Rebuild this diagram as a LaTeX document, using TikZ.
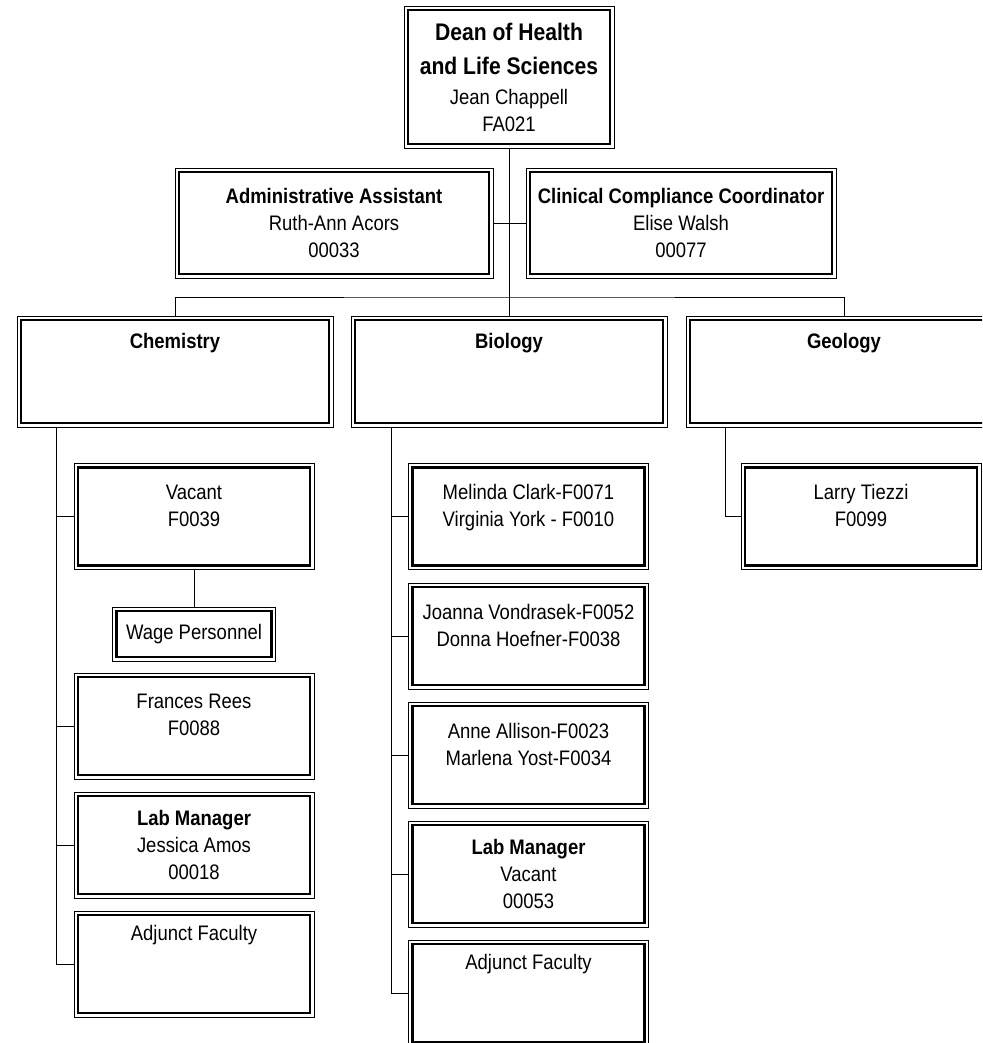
\documentclass[tikz,border=0pt]{standalone}
\usepackage{fontspec}
\setmainfont{Liberation Sans}[FakeStretch=0.88]
\newcommand{\headline}{\fontsize{24}{30}\selectfont\bfseries}
\newcommand{\padline}{\\[-13pt]\strut}

\begin{document}
\begin{tikzpicture}[x=1pt,y=-1pt]
        \tikzstyle{every node}=[font=\fontsize{21}{27}\selectfont]
        \tikzstyle{box}=[draw, line width=0.7pt, inner sep=0pt, align=center]
        \tikzstyle{dept}=[box, minimum width=316pt, minimum height=111pt]
        \tikzstyle{staff}=[box, minimum width=240pt, minimum height=106pt]
        \tikzstyle{link}=[line width=0.8pt]

        \clip (0,0) rectangle (982,1043);

        % dean and office
        \node[box, minimum width=210pt, minimum height=142pt] (dean) at (509,77)
            {{\headline Dean of Health}\\[7pt] {\headline and Life Sciences}\\[3pt] Jean Chappell\\ FA021};
        \node[box, minimum width=318pt, minimum height=110pt] (admin) at (334,223)
            {\textbf{Administrative Assistant}\\ Ruth-Ann Acors\\ 00033};
        \node[box, minimum width=310pt, minimum height=110pt] (clin) at (681,223)
            {\textbf{Clinical Compliance Coordinator}\\ Elise Walsh\\ 00077};

        % departments
        \node[dept] (chem) at (175,371.5) {\textbf{Chemistry}\\ \strut\\ \strut};
        \node[dept] (bio) at (509,371.5) {\textbf{Biology}\\ \strut\\ \strut};
        \node[dept] (geo) at (844,371.5) {\textbf{Geology}\\ \strut\\ \strut};

        % chemistry
        \node[staff] (vac) at (194,516.5) {Vacant\\ F0039\padline};
        \node[box, minimum width=163pt, minimum height=54pt] (wage) at (194,634) {Wage Personnel};
        \node[staff] (fran) at (194,726) {Frances Rees\\ F0088\padline};
        \node[staff] (labc) at (194,845) {\textbf{Lab Manager}\\ Jessica Amos\\ 00018};
        \node[staff] (adjc) at (194,964) {Adjunct Faculty\\ \strut\\ \strut};

        % biology
        \node[staff] (mel) at (528.5,516.5) {Melinda Clark-F0071\\ Virginia York - F0010\padline};
        \node[staff] (joa) at (528.5,636) {Joanna Vondrasek-F0052\\ Donna Hoefner-F0038\padline};
        \node[staff] (ann) at (528.5,755) {Anne Allison-F0023\\ Marlena Yost-F0034\padline};
        \node[staff] (labb) at (528.5,874) {\textbf{Lab Manager}\\ Vacant\\ 00053};
        \node[staff] (adjb) at (528.5,993) {Adjunct Faculty\\ \strut\\ \strut};

        % geology
        \node[staff] (larry) at (861,516.5) {Larry Tiezzi\\ F0099\padline};

        % heavy inner frames
        \foreach \n in {dean,admin,clin,chem,bio,geo,vac,wage,fran,labc,adjc,mel,joa,ann,labb,adjb,larry}
            \draw[line width=2.6pt] ([shift={(4.5,4.5)}]\n.north west) rectangle ([shift={(-4.5,-4.5)}]\n.south east);

        % connectors
        \coordinate (bar) at (509,297);
        \draw[link] (dean.south) -- (bio.north);
        \draw[link] (admin.east) -- (admin.east -| dean.south);
        \draw[link] (clin.west) -- (clin.west -| dean.south);
        \draw[link] (chem.north) |- (bar) -| (geo.north);

        \coordinate (ctrunk) at (56,427);
        \coordinate (btrunk) at (391,427);
        \coordinate (gtrunk) at (725,427);
        \draw[link] (ctrunk) |- (adjc.west);
        \foreach \n in {vac,fran,labc}
            \draw[link] (\n.west) -- (\n.west -| ctrunk);
        \draw[link] (vac.south) -- (wage.north);
        \draw[link] (btrunk) |- (adjb.west);
        \foreach \n in {mel,joa,ann,labb}
            \draw[link] (\n.west) -- (\n.west -| btrunk);
        \draw[link] (gtrunk) |- (larry.west);

    \end{tikzpicture}
\end{document}
